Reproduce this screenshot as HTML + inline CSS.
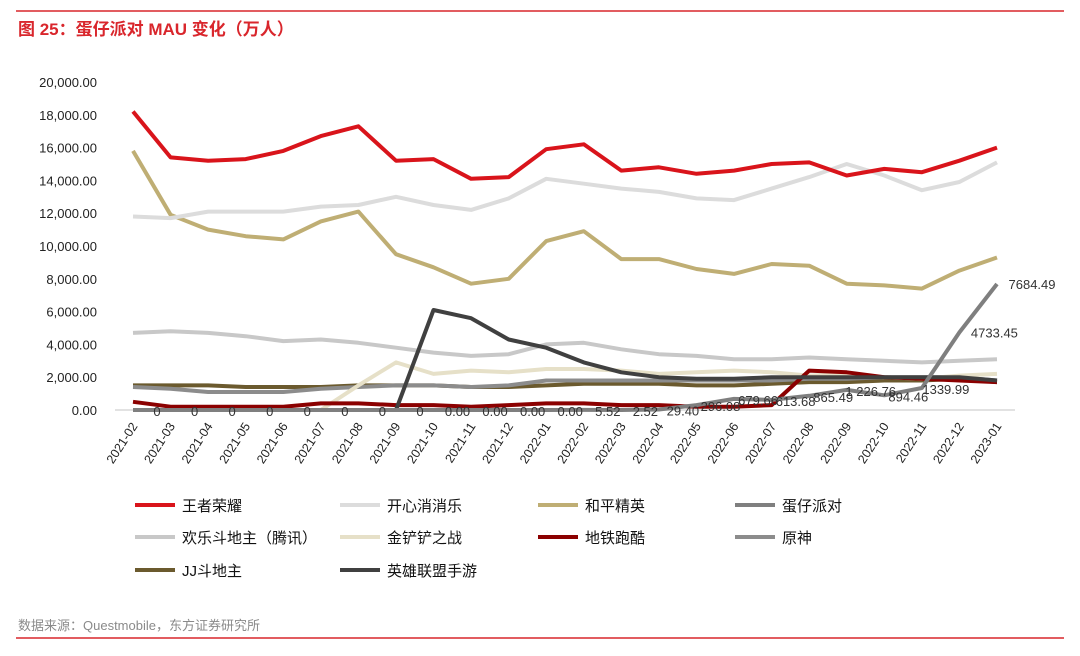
<!DOCTYPE html>
<html><head><meta charset="utf-8"><style>
body{margin:0;background:#fff;width:1080px;height:651px;overflow:hidden;font-family:"Liberation Sans","Noto Sans CJK SC",sans-serif}
</style></head><body>
<svg id="c" width="1080" height="651" xmlns="http://www.w3.org/2000/svg">
<line x1="16" y1="11" x2="1064" y2="11" stroke="#d9262c" stroke-width="1.5"/>
<text x="18" y="35" font-size="17" font-weight="bold" fill="#d9262c" font-family="Liberation Sans,Noto Sans CJK SC,sans-serif">图 25：蛋仔派对 MAU 变化（万人）</text>
<text x="18" y="630" font-size="13" fill="#8a8a8a" font-family="Liberation Sans,Noto Sans CJK SC,sans-serif">数据来源：Questmobile，东方证券研究所</text>
<line x1="16" y1="638" x2="1064" y2="638" stroke="#d9262c" stroke-width="1.5"/>
<g id="plot"></g>
</svg>
<script>
const categories=["2021-02","2021-03","2021-04","2021-05","2021-06","2021-07","2021-08","2021-09","2021-10","2021-11","2021-12","2022-01","2022-02","2022-03","2022-04","2022-05","2022-06","2022-07","2022-08","2022-09","2022-10","2022-11","2022-12","2023-01"];
const yTicks=[0,2000,4000,6000,8000,10000,12000,14000,16000,18000,20000];
const wzry=[18200,15400,15200,15300,15800,16700,17300,15200,15300,14100,14200,15900,16200,14600,14800,14400,14600,15000,15100,14300,14700,14500,15200,16000];
const kxxxl=[11800,11700,12100,12100,12100,12400,12500,13000,12500,12200,12900,14100,13800,13500,13300,12900,12800,13500,14200,15000,14300,13400,13900,15100];
const hpjy=[15800,11900,11000,10600,10400,11500,12100,9500,8700,7700,8000,10300,10900,9200,9200,8600,8300,8900,8800,7700,7600,7400,8500,9300];
const hlddz=[4700,4800,4700,4500,4200,4300,4100,3800,3500,3300,3400,4000,4100,3700,3400,3300,3100,3100,3200,3100,3000,2900,3000,3100];
const jccz=[null,null,null,null,null,0,1500,2900,2200,2400,2300,2500,2500,2400,2200,2300,2400,2300,2100,2200,2000,1900,2100,2200];
const dtpk=[500,200,200,200,200,400,400,300,300,200,300,400,400,300,300,200,200,300,2400,2300,2000,1900,1800,1700];
const ys=[1400,1300,1100,1100,1100,1300,1400,1500,1500,1400,1500,1800,1800,1800,1800,1800,1800,1800,1900,1900,2000,2000,2000,1800];
const jjddz=[1500,1500,1500,1400,1400,1400,1500,1500,1500,1400,1400,1500,1600,1600,1600,1500,1500,1600,1700,1700,1800,1800,1900,1700];
const lolm=[null,null,null,null,null,null,null,0,6100,5600,4300,3800,2900,2300,2000,1900,1900,2000,2000,2000,2000,2000,2000,1800];
const dzpd=[0,0,0,0,0,0,0,0,0,0,0,0,5.52,2.52,29.40,296.08,679.66,613.68,865.49,1226.76,894.46,1339.99,4733.45,7684.49];
const dzpdLabels=["0","0","0","0","0","0","0","0","0.00","0.00","0.00","0.00","5.52","2.52","29.40","296.08","679.66","613.68","865.49","1 226.76","894.46","1339.99","4733.45","7684.49"];
const names=["王者荣耀","开心消消乐","和平精英","蛋仔派对","欢乐斗地主（腾讯）","金铲铲之战","地铁跑酷","原神","JJ斗地主","英雄联盟手游"];

const NS="http://www.w3.org/2000/svg";
const g=document.getElementById('plot');
const x0=133,x1=997,y0=410,yTop=82;
const xs=i=>x0+i*(x1-x0)/(categories.length-1);
const ys_=v=>y0-v/20000*(y0-yTop);
function mk(t,a){const e=document.createElementNS(NS,t);for(const k in a)e.setAttribute(k,a[k]);g.appendChild(e);return e;}
const fontF="Liberation Sans,Noto Sans CJK SC,sans-serif";
yTicks.forEach(v=>{
 const t=mk('text',{x:97,y:ys_(v)+5,'text-anchor':'end','font-size':13,fill:'#222','font-family':fontF});
 t.textContent=v.toLocaleString('en-US',{minimumFractionDigits:2});
 
 
});
const ax=mk('line',{x1:115,y1:y0,x2:1015,y2:y0,stroke:'#d9d9d9','stroke-width':1.5});


categories.forEach((c,i)=>{
 const tx=xs(i)+5,ty=y0+16;
 const t=mk('text',{x:tx,y:ty,'text-anchor':'end','font-size':12.5,fill:'#222','font-family':fontF,transform:`rotate(-57 ${tx} ${ty})`});
 t.textContent=c;
 
 
});
const series=[
 [jjddz,'#6b5a2e','jj-doudizhu-line'],[ys,'#8c8c8c','yuanshen-line'],[jccz,'#e6e0c8','jinchanchan-line'],
 [hlddz,'#c8c8c8','huanle-doudizhu-line'],[dtpk,'#8b0000','subway-surfers-line'],[lolm,'#404040','lol-mobile-line'],
 [dzpd,'#7f7f7f','dzpd-line'],[hpjy,'#bfae74','peace-elite-line'],[kxxxl,'#dcdcdc','kaixin-xiaoxiaole-line'],[wzry,'#d9141b','honor-of-kings-line']];
series.forEach(([d,col,nm])=>{
 let p='';d.forEach((v,i)=>{if(v===null)return;p+=(p?'L':'M')+xs(i).toFixed(1)+','+ys_(v).toFixed(1);});
 const e=mk('path',{d:p,fill:'none',stroke:col,'stroke-width':4,'stroke-linejoin':'round'});
 
 
});
dzpd.forEach((v,i)=>{
 const last=i>=categories.length-2;
 const t=mk('text',{x:last?xs(i)+35:xs(i)+24,y:last?ys_(v)+5:Math.min(ys_(v)-2,y0)+8,'text-anchor':'middle','font-size':13,fill:'#333','font-family':fontF});
 t.textContent=dzpdLabels[i];
 
 
});
const legCols=['#d9141b','#dcdcdc','#bfae74','#7f7f7f','#c8c8c8','#e6e0c8','#8b0000','#8c8c8c','#6b5a2e','#404040'];
const lx=[135,340,538,735],ly=[505,537,570];
names.forEach((n,i)=>{
 const x=lx[i%4],y=ly[Math.floor(i/4)];
 const l=mk('line',{x1:x,y1:y,x2:x+40,y2:y,stroke:legCols[i],'stroke-width':4});
 
 
 const t=mk('text',{x:x+47,y:y+6,'font-size':15,fill:'#111','font-family':fontF});
 t.textContent=n;
 
 
});
</script>
</body></html>
